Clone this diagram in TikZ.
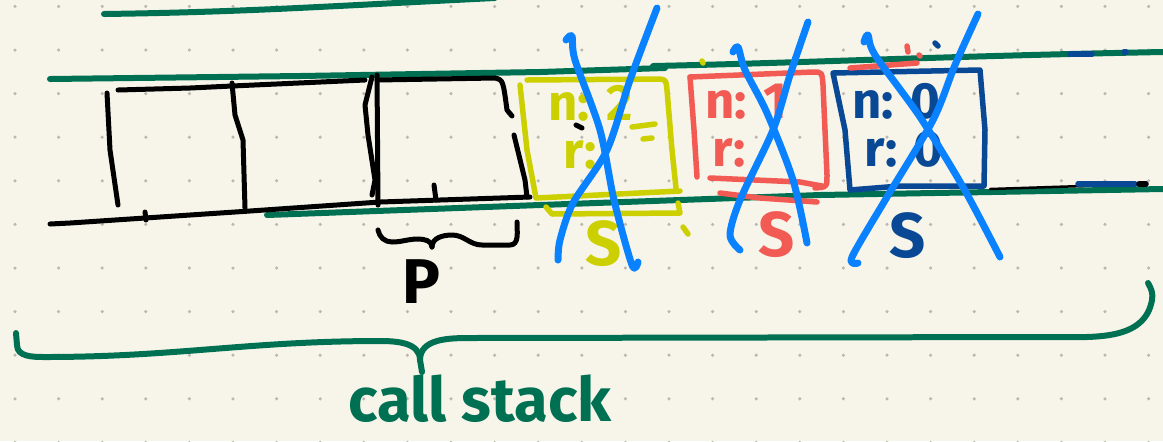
\documentclass[tikz,border=0pt]{standalone}
\usepackage{fontspec}
\setsansfont{Fira Sans}
\usetikzlibrary{positioning}
\definecolor{paper}{RGB}{247,245,234}
\definecolor{dotgrey}{RGB}{185,185,178}
\definecolor{railgreen}{RGB}{0,112,82}
\definecolor{pyellow}{RGB}{205,208,0}
\definecolor{pred}{RGB}{242,90,84}
\definecolor{pnavy}{RGB}{8,72,148}
\definecolor{xblue}{RGB}{10,130,255}
\tikzset{
ink/.style={line width=.1cm,line cap=round,line join=round},
rail/.style={ink,draw=railgreen,line width=.12cm},
frame/.style={ink,line width=.11cm},
cross/.style={ink,draw=xblue,line width=.14cm},
memo/.style={font=\sffamily\bfseries\fontsize{29}{31}\selectfont,anchor=base west,inner sep=0pt},
tag/.style={font=\sffamily\bfseries\fontsize{36}{38}\selectfont,inner sep=0pt}
}

\begin{document}
\begin{tikzpicture}[x=.02cm,y=-.02cm]
\fill[paper](0,0)rectangle(1163,441);
\useasboundingbox(0,0)rectangle(1163,441);
\clip(0,0)rectangle(1163,441);
% dotted paper
\foreach \i in {0,...,26}\foreach \j in {0,...,10}\fill[dotgrey](15+43.6*\i,6.4+43.6*\j)circle[radius=1pt];

% green rails
\draw[rail](104,14)..controls(250,12)and(330,6)..(495,-2);
\draw[rail](50,79)--(300,76)--(540,72)--(665,68);
\draw[rail](653,66)..controls(800,63)and(950,56)..(1163,52);
\draw[rail](267,215)--(540,205)--(820,195)--(1163,189);

% black cells
\draw[ink](107,93)--(110,150)--(118,205);
\draw[ink](118,90)--(190,88)--(232,86)--(365,80);
\draw[ink](232,83)--(235,115)--(243,140)--(245,208);
\draw[ink](372,77)--(365,105)--(368,135)--(375,180)--(372,195);
\draw[ink](377,75)--(378,205);
\draw[ink](377,80)--(495,78)..controls(503,80)..(507,110)--(512,116);
\draw[ink](514,135)--(525,180)--(527,197);
\draw[ink](50,224)--(70,223)--(250,211)--(380,202)--(530,197);
\draw[ink](145,212)--(146,220);
\draw[ink](434,185)--(436,200);

% brace P
\node[tag](p) at (421,282) {P};
\coordinate (pl) at (378,230);
\coordinate (ptip) at (432,247);
\coordinate (pr) at (517,222);
\draw[ink](pl)to[out=-80,in=180](392,242)to[out=0,in=180](418,239)to[out=0,in=90](ptip);
\draw[ink](ptip)to[out=90,in=180](452,235)to[out=0,in=180](482,245)--(510,245)to[out=0,in=-90](pr);

% yellow frame n:2
\draw[frame,draw=pyellow](520,85)--(527,150)--(536,198)--(680,191);
\draw[frame,draw=pyellow](527,80)--(660,79)..controls(666,80)..(667,90)--(672,150)--(676,188);
\draw[frame,draw=pyellow](546,207)--(552,214)--(680,213)--(678,203);
\node[memo,text=pyellow](yn) at (548,120) {n: 2};
\node[memo,text=pyellow](yr) at (563,168) {r:};
\draw[frame,draw=pyellow](632,127)--(655,124);
\draw[frame,draw=pyellow](643,139)--(652,138);
\draw[ink](576,125)--(582,128);
\node[tag,text=pyellow](ys) at (604,244) {S};
\draw[frame,draw=pyellow](702,61)--(703,63);
\draw[frame,draw=pyellow](683,227)--(688,234);

% red frame n:1
\draw[frame,draw=pred](690,77)--(813,72)..controls(822,72)..(823,85)--(827,175)..controls(827,187)..(815,188);
\draw[frame,draw=pred](690,77)--(694,130)--(697,177);
\draw[frame,draw=pred](710,178)--(800,182)--(822,186);
\draw[frame,draw=pred](720,193)--(760,198)--(817,202);
\node[memo,text=pred](rn) at (705,118) {n: 1};
\node[memo,text=pred](rr) at (712,166) {r:};
\node[tag,text=pred](rs) at (777,235) {S};

% navy frame n:0
\draw[frame,draw=pnavy](833,73)--(980,70)--(985,130)--(984,186)--(900,186)--(850,190)--(845,130)--cycle;
\node[memo,text=pnavy](bn) at (852,118) {n: 0};
\node[memo,text=pnavy](br) at (864,166) {r: 0};
\node[tag,text=pnavy](bs) at (908,236) {S};

% stray marks
\draw[frame,draw=pred](850,68)--(917,63);
\draw[frame,draw=pred](907,46)--(908,52);
\draw[frame,draw=pred](919,55)--(920,56);
\draw[frame,draw=pnavy](935,43)--(938,46);
\draw[frame,draw=pnavy](1070,54)--(1092,54);
\draw[frame,draw=pnavy](1124,52)--(1126,52);
\draw[ink,line width=.05cm](990,189)--(1145,184);
\draw[frame,draw=pnavy](1078,184)--(1135,184);
\draw[frame](1139,184)--(1146,184);

% crossed out
\draw[cross]plot[smooth]coordinates{(566,40)(572,36)(575,60)(600,130)(614,200)(632,265)(638,262)};
\draw[cross]plot[smooth]coordinates{(657,8)(630,80)(607,150)(573,203)(560,240)(558,260)};
\draw[cross]plot[smooth]coordinates{(733,52)(738,47)(745,70)(767,113)(793,180)(807,243)};
\draw[cross]plot[smooth]coordinates{(808,22)(790,75)(773,130)(740,200)(730,235)(740,250)};
\draw[cross]plot[smooth]coordinates{(864,42)(868,35)(875,55)(920,117)(963,187)(1000,257)};
\draw[cross]plot[smooth]coordinates{(978,14)(955,65)(933,120)(887,197)(852,257)(858,263)};

% call stack brace
\node[font=\sffamily\bfseries\fontsize{35}{37}\selectfont,text=railgreen,anchor=base,inner sep=0pt](callstack) at (480,421) {call stack};
\coordinate (bl) at (16,333);
\coordinate (btip) at (422,372);
\coordinate (bright) at (1148,283);
\draw[rail](bl)--(17,345)to[out=-90,in=180](45,357)to[out=0,in=180](380,341)to[out=0,in=90](420,360)--(btip);
\draw[rail](420,360)to[out=90,in=180](470,338)--(1050,337)to[out=0,in=-100](1152,300)to[out=80,in=-60](bright);
\end{tikzpicture}
\end{document}
